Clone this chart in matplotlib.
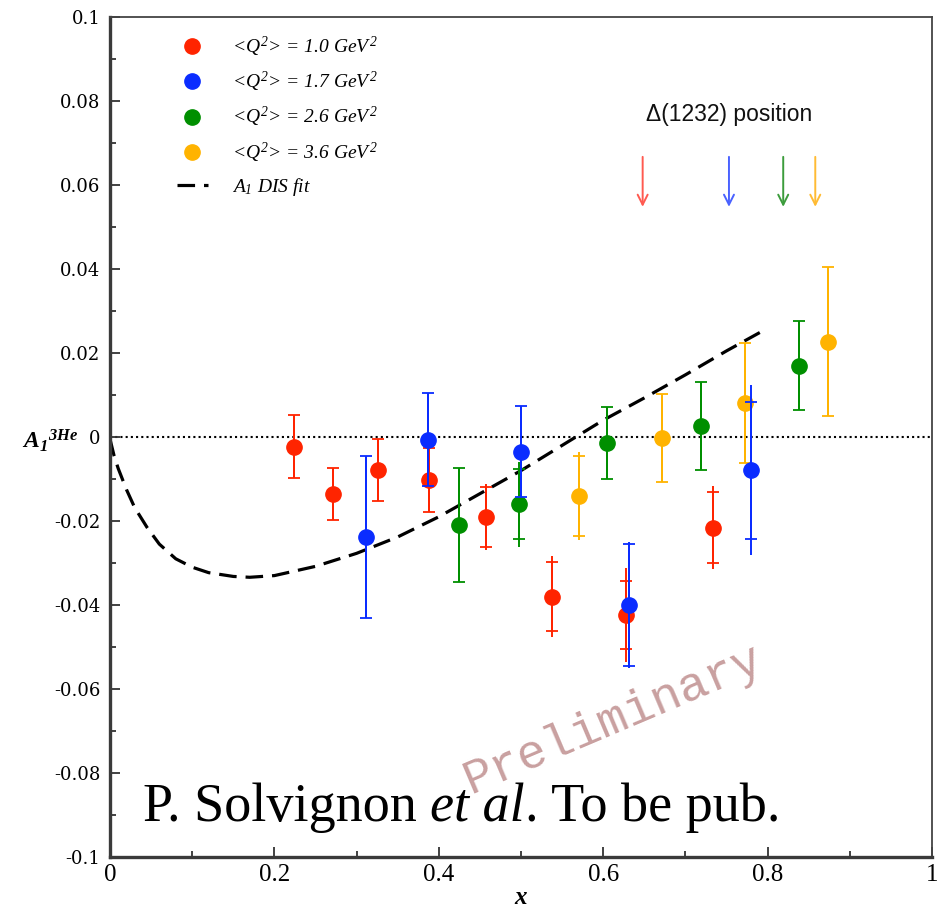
import matplotlib
matplotlib.use("Agg")
import matplotlib.pyplot as plt
import matplotlib.transforms as mtransforms
from matplotlib.lines import Line2D
from matplotlib.ticker import FixedLocator, FixedFormatter, MultipleLocator

plt.rcParams["axes.unicode_minus"] = False
plt.rcParams["mathtext.fontset"] = "custom"
plt.rcParams["mathtext.it"] = "Liberation Serif:italic"
plt.rcParams["mathtext.rm"] = "Liberation Serif:italic"
plt.rcParams["mathtext.bf"] = "Liberation Serif:bold:italic"

# ---- data -------------------------------------------------------------
q2_labels = ["1.0", "1.7", "2.6", "3.6"]
colors = ["#ff2400", "#0a2cff", "#008f00", "#ffb300"]
arrow_colors = ["#ff5a50", "#4a62ff", "#3c9c3c", "#ffbb33"]

x_q1 = [0.224, 0.271, 0.326, 0.388, 0.458, 0.538, 0.628, 0.733]
y_q1 = [-0.0023, -0.0136, -0.0079, -0.0102, -0.0191, -0.0380, -0.0424, -0.0216]
stat_q1 = [0.0075, 0.0062, 0.0074, 0.0076, 0.0072, 0.0082, 0.0081, 0.0084]
sys_q1 = [0.0, 0.0, 0.0, 0.0, 0.0006, 0.0014, 0.0030, 0.0015]

x_q2 = [0.312, 0.387, 0.500, 0.631, 0.780]
y_q2 = [-0.0239, -0.0006, -0.0035, -0.0400, -0.0079]
stat_q2 = [0.0193, 0.0111, 0.0108, 0.0145, 0.0163]
sys_q2 = [0.0, 0.0, 0.0, 0.0005, 0.0040]

x_q3 = [0.424, 0.498, 0.605, 0.719, 0.838]
y_q3 = [-0.0210, -0.0160, -0.0014, 0.0026, 0.0170]
stat_q3 = [0.0136, 0.0084, 0.0085, 0.0105, 0.0106]
sys_q3 = [0.0, 0.0017, 0.0, 0.0, 0.0]

x_q4 = [0.571, 0.671, 0.773, 0.874]
y_q4 = [-0.0140, -0.0003, 0.0080, 0.0227]
stat_q4 = [0.0095, 0.0105, 0.0143, 0.0178]
sys_q4 = [0.0010, 0.0, 0.0, 0.0]

fit_x = [0.0, 0.005, 0.01, 0.02, 0.03, 0.045, 0.06, 0.08, 0.10, 0.12, 0.15,
         0.17, 0.20, 0.25, 0.30, 0.35, 0.40, 0.45, 0.50, 0.55, 0.60, 0.65,
         0.70, 0.75, 0.80]
fit_y = [-0.0005, -0.0045, -0.0075, -0.0125, -0.0168, -0.0215, -0.0255,
         -0.0290, -0.0310, -0.0323, -0.0332, -0.0334, -0.0330, -0.0308,
         -0.0277, -0.0238, -0.0190, -0.0135, -0.0080, -0.0020, 0.0040,
         0.0093, 0.0148, 0.0205, 0.0259]

delta_x = [0.648, 0.753, 0.819, 0.858]
arrow_top, arrow_tip = 0.0667, 0.0548

x_ticks = [0, 0.2, 0.4, 0.6, 0.8, 1.0]
x_ticklabels = ["0", "0.2", "0.4", "0.6", "0.8", "1"]
y_ticks = [-0.1, -0.08, -0.06, -0.04, -0.02, 0, 0.02, 0.04, 0.06, 0.08, 0.1]
y_ticklabels = ["-0.1", "-0.08", "-0.06", "-0.04", "-0.02", "0",
                "0.02", "0.04", "0.06", "0.08", "0.1"]

# ---- figure -----------------------------------------------------------
fig = plt.figure(figsize=(9.4, 9.1), dpi=100)
ax = fig.add_axes([110 / 940, 1 - 857 / 910, 822 / 940, 840 / 910])
ax.set_xlim(0, 1)
ax.set_ylim(-0.1, 0.1)

# zero line and DIS fit
ax.plot([0, 1], [0, 0], color="black", lw=1.5, ls=(0, (1.0, 1.5)), zorder=1)
ax.plot(fit_x, fit_y, color="black", lw=2.3, dashes=(5.5, 2.8), zorder=2,
        dash_capstyle="butt")

series = [
    (x_q1, y_q1, stat_q1, sys_q1, 0),
    (x_q3, y_q3, stat_q3, sys_q3, 2),
    (x_q4, y_q4, stat_q4, sys_q4, 3),
    (x_q2, y_q2, stat_q2, sys_q2, 1),
]
for k, (xs, ys, st, sy, ci) in enumerate(series):
    tot = [a + b for a, b in zip(st, sy)]
    c = colors[ci]
    z = 3 + k
    ax.errorbar(xs, ys, yerr=tot, fmt="none", ecolor=c, elinewidth=1.4,
                capsize=0, zorder=z)
    ax.errorbar(xs, ys, yerr=st, fmt="o", color=c, ms=11, mec=c,
                ecolor=c, elinewidth=1.4, capsize=4, capthick=1.3, zorder=z)

# Delta(1232) arrows
for xd, c in zip(delta_x, arrow_colors):
    ax.annotate("", xy=(xd, arrow_tip), xytext=(xd, arrow_top),
                arrowprops=dict(arrowstyle="->", color=c, lw=1.4,
                                mutation_scale=18, shrinkA=0, shrinkB=0))
ax.text(0.753, 0.0767, "\u0394(1232) position", family="Liberation Sans",
        fontsize=16.5, ha="center", va="center", color="#111111")

# legend
handles = [Line2D([], [], ls="none", marker="o", ms=11, color=c)
           for c in colors]
labels = [r"<$Q^2$> = %s Ge$V^2$" % q for q in q2_labels]
handles.append(Line2D([], [], color="black", lw=2.3, dashes=(5.5, 2.8)))
labels.append(r"$A_1$ DIS fit")
leg = ax.legend(handles, labels, loc="upper left", frameon=False,
                bbox_to_anchor=(0.060, 1.0),
                prop=dict(family="Liberation Serif", style="italic", size=14),
                handlelength=1.6, handletextpad=1.25, labelspacing=0.57)

# credit line
ytxt = -0.0915
ax.text(0.04, ytxt, "P. Solvignon ", family="Liberation Serif",
        fontsize=39, ha="left", va="baseline")
probe = ax.text(0.04, ytxt, "P. Solvignon ", family="Liberation Serif",
                fontsize=39, ha="left", va="baseline", alpha=0)
fig.canvas.draw()
r = fig.canvas.get_renderer()
bb = probe.get_window_extent(r)
probe.remove()
blend = mtransforms.blended_transform_factory(
    mtransforms.IdentityTransform(), ax.transData)
t2 = ax.text(bb.x1, ytxt, "et al", family="Liberation Serif", style="italic",
             fontsize=39, ha="left", va="baseline", transform=blend)
bb2 = t2.get_window_extent(r)
ax.text(bb2.x1, ytxt, ". To be pub.", family="Liberation Serif",
        fontsize=39, ha="left", va="baseline", transform=blend)

ax.text(0.612, -0.0672, "Preliminary", family="Liberation Mono",
        fontsize=35, color="#c9a0a0", rotation=23, ha="center",
        va="center", rotation_mode="anchor", zorder=0)

# axes styling
ax.xaxis.set_major_locator(FixedLocator(x_ticks))
ax.xaxis.set_major_formatter(FixedFormatter(x_ticklabels))
ax.yaxis.set_major_locator(FixedLocator(y_ticks))
ax.yaxis.set_major_formatter(FixedFormatter(y_ticklabels))
ax.xaxis.set_minor_locator(MultipleLocator(0.1))
ax.yaxis.set_minor_locator(MultipleLocator(0.01))
ax.tick_params(which="both", direction="in", top=False, right=False,
               color="#333333", width=1.3)
ax.tick_params(which="major", length=7.5)
ax.tick_params(which="minor", length=4)
ax.tick_params(axis="x", which="major", pad=5)
ax.tick_params(axis="y", which="major", pad=7)
for lab in ax.get_xticklabels():
    lab.set_family("Liberation Serif")
    lab.set_fontsize(18)
for lab in ax.get_yticklabels():
    lab.set_family("DejaVu Serif")
    lab.set_fontsize(13)

for side in ["left", "bottom"]:
    ax.spines[side].set_linewidth(2.4)
    ax.spines[side].set_color("#3a3a3a")
for side in ["top", "right"]:
    ax.spines[side].set_linewidth(1.3)
    ax.spines[side].set_color("#444444")

ax.set_xlabel("x", family="Liberation Serif", style="italic",
              weight="bold", fontsize=18, labelpad=0)
fig.text(22 / 940, 1 - 448 / 910, r"$\mathbf{A_1{}^{3He}}$", fontsize=17,
         ha="left", va="baseline")

fig.savefig("out.png", dpi=100)
